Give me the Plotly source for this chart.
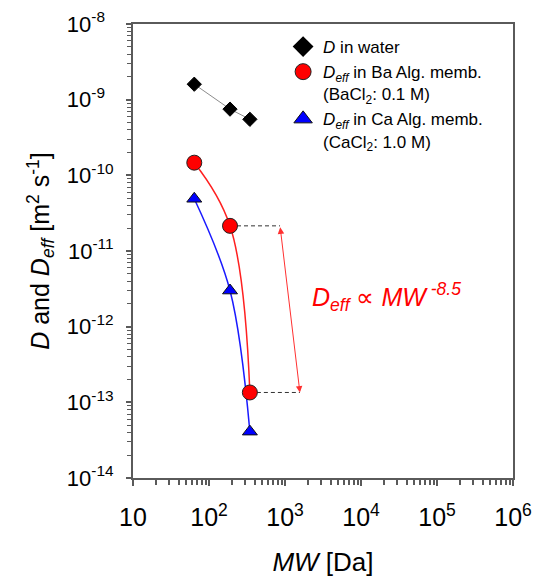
import math
import plotly.graph_objects as go

# ---- data ----
mw = [64, 189, 345]
d_water = [1.6e-9, 7.5e-10, 5.5e-10]
d_eff_ba = [1.47e-10, 2.15e-11, 1.35e-13]
d_eff_ca = [4.9e-11, 3.0e-12, 4.1e-14]
arrow_mw = [860, 1570]          # x positions of the scaling double arrow (top, bottom)

x_tickvals = [10, 1e2, 1e3, 1e4, 1e5, 1e6]
x_ticktext = ["10", "10<sup>2</sup>", "10<sup>3</sup>", "10<sup>4</sup>", "10<sup>5</sup>", "10<sup>6</sup>"]
y_tickvals = [1e-8, 1e-9, 1e-10, 1e-11, 1e-12, 1e-13, 1e-14]
y_ticktext = ["10<sup>-8\u00a0\u00a0</sup>", "10<sup>-9\u00a0\u00a0</sup>", "10<sup>-10</sup>", "10<sup>-11</sup>",
              "10<sup>-12</sup>", "10<sup>-13</sup>", "10<sup>-14</sup>"]

FONT = "Arial, 'Liberation Sans', sans-serif"
AX = "#5a5a5a"

fig = go.Figure()

# connecting lines
fig.add_trace(go.Scatter(x=mw, y=d_water, mode="lines", line=dict(color="#8c8c8c", width=1),
                         showlegend=False, hoverinfo="skip"))
fig.add_trace(go.Scatter(x=mw, y=d_eff_ba, mode="lines", line=dict(color="#ff2020", width=1.5, shape="spline", smoothing=1.1),
                         showlegend=False, hoverinfo="skip"))
fig.add_trace(go.Scatter(x=mw, y=d_eff_ca, mode="lines", line=dict(color="#1a1aff", width=1.5, shape="spline", smoothing=1.0),
                         showlegend=False, hoverinfo="skip"))

# dashed guide lines
fig.add_trace(go.Scatter(x=[mw[1], arrow_mw[0]], y=[d_eff_ba[1], d_eff_ba[1]], mode="lines",
                         line=dict(color="#333333", width=1, dash="4px,3px"), showlegend=False, hoverinfo="skip"))
fig.add_trace(go.Scatter(x=[mw[2], arrow_mw[1]], y=[d_eff_ba[2], d_eff_ba[2]], mode="lines",
                         line=dict(color="#333333", width=1, dash="4px,3px"), showlegend=False, hoverinfo="skip"))

# markers
fig.add_trace(go.Scatter(x=mw, y=d_water, mode="markers",
                         marker=dict(symbol="diamond", size=11, color="black", line=dict(color="black", width=1)),
                         showlegend=False))
fig.add_trace(go.Scatter(x=mw, y=d_eff_ca, mode="markers",
                         marker=dict(symbol="triangle-up", size=13, color="#0000ff", line=dict(color="#111111", width=1)),
                         showlegend=False))
fig.add_trace(go.Scatter(x=mw, y=d_eff_ba, mode="markers",
                         marker=dict(symbol="circle", size=15, color="#ff0000", line=dict(color="#222222", width=1)),
                         showlegend=False))

# legend entries
fig.add_trace(go.Scatter(x=[None], y=[None], mode="markers", name="<i>D</i> in water",
                         marker=dict(symbol="diamond", size=16, color="black")))
fig.add_trace(go.Scatter(x=[None], y=[None], mode="markers",
                         name="<i>D</i><sub><i>eff</i></sub> in Ba Alg. memb.<br>(BaCl<sub>2</sub>: 0.1 M)",
                         marker=dict(symbol="circle", size=16, color="#ff0000", line=dict(color="#222222", width=1))))
fig.add_trace(go.Scatter(x=[None], y=[None], mode="markers",
                         name="<i>D</i><sub><i>eff</i></sub> in Ca Alg. memb.<br>(CaCl<sub>2</sub>: 1.0 M)",
                         marker=dict(symbol="triangle-up", size=16, color="#0000ff", line=dict(color="#111111", width=1))))

# double arrow
fig.add_annotation(x=math.log10(arrow_mw[1]), y=math.log10(d_eff_ba[2]),
                   ax=math.log10(arrow_mw[0]), ay=math.log10(d_eff_ba[1]),
                   xref="x", yref="y", axref="x", ayref="y", text="", showarrow=True,
                   arrowhead=2, startarrowhead=2, arrowside="end+start", arrowsize=1.3, startarrowsize=1.3,
                   arrowwidth=1, arrowcolor="#ff3030")
fig.add_annotation(x=0.666, y=0.399, xref="paper", yref="paper", showarrow=False,
                   text="<i>D</i><sub><i>eff</i></sub> ∝ <i>MW</i><sup><i> -8.5</i></sup>",
                   font=dict(family=FONT, size=25, color="#ff0000"))

fig.update_xaxes(type="log", range=[1, 6], tickmode="array", tickvals=x_tickvals, ticktext=x_ticktext,
                 ticks="outside", ticklen=6, tickwidth=1.5, tickcolor=AX, automargin=False,
                 showline=True, linecolor=AX, linewidth=2, mirror=True, showgrid=False, zeroline=False,
                 tickfont=dict(family=FONT, size=25, color="black"), ticklabelstandoff=10,
                 minor=dict(ticks="outside", ticklen=5, tickwidth=1.5, tickcolor=AX, tickmode="array",
                            tickvals=[m * 10 ** k for k in range(1, 6) for m in range(2, 10)], showgrid=False),
                 title=dict(text="\u00a0\u00a0<i>MW</i> [Da]", font=dict(family=FONT, size=26, color="black"), standoff=24))
fig.update_yaxes(type="log", range=[-14, -8], tickmode="array", tickvals=y_tickvals, ticktext=y_ticktext,
                 ticks="outside", ticklen=5, tickwidth=1.5, tickcolor=AX, automargin=False,
                 showline=True, linecolor=AX, linewidth=2, mirror=True, showgrid=False, zeroline=False,
                 tickfont=dict(family=FONT, size=22, color="black"), ticklabelstandoff=8,
                 minor=dict(ticks="outside", ticklen=4, tickwidth=1, tickcolor=AX, tickmode="array",
                            tickvals=[m * 10.0 ** k for k in range(-14, -8) for m in range(2, 10)], showgrid=False),
                 title=dict(text="<i>D</i> and <i>D</i><sub><i>eff</i></sub> [m<sup>2</sup> s<sup>-1</sup>]",
                            font=dict(family=FONT, size=25, color="black"), standoff=10))

fig.update_layout(width=536, height=577, margin=dict(l=133, r=23, t=24, b=99),
                  paper_bgcolor="white", plot_bgcolor="white",
                  font=dict(family=FONT, color="black"),
                  legend=dict(x=0.395, y=0.989, xanchor="left", yanchor="top", valign="top",
                              font=dict(family=FONT, size=17, color="black"), bgcolor="rgba(0,0,0,0)",
                              tracegroupgap=0, itemwidth=30))

fig.write_html("out.html", config={"displayModeBar": False},
               post_script="document.body.style.margin='0';document.body.style.overflow='hidden';")
